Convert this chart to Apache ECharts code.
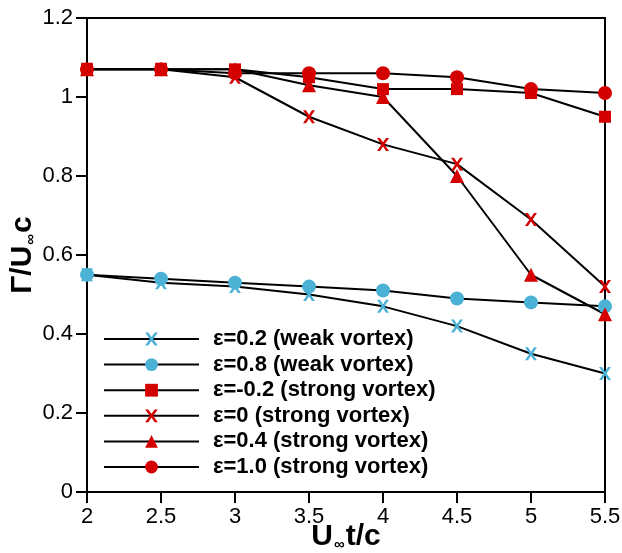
<!DOCTYPE html>
<html>
<head>
<meta charset="utf-8">
<script src="https://cdn.jsdelivr.net/npm/echarts@6/dist/echarts.min.js"></script>
<style>
  html, body { margin: 0; padding: 0; background: #fff; }
  #main { width: 622px; height: 553px; }
</style>
</head>
<body>
<div id="main"></div>
<script>
// x positions (U∞t/c)
var xValues = [2, 2.5, 3, 3.5, 4, 4.5, 5, 5.5];

// Γ/U∞c
var weak02 = [0.55, 0.53, 0.52, 0.50, 0.47, 0.42, 0.35, 0.30];
var weak08 = [0.55, 0.54, 0.53, 0.52, 0.51, 0.49, 0.48, 0.47];
var strongM02 = [1.07, 1.07, 1.07, 1.05, 1.02, 1.02, 1.01, 0.95];
var strong0 = [1.07, 1.07, 1.05, 0.95, 0.88, 0.83, 0.69, 0.52];
var strong04 = [1.07, 1.07, 1.07, 1.03, 1.00, 0.80, 0.55, 0.45];
var strong10 = [1.07, 1.07, 1.06, 1.06, 1.06, 1.05, 1.02, 1.01];

var seriesNames = [
  "ε=0.2 (weak vortex)",
  "ε=0.8 (weak vortex)",
  "ε=-0.2 (strong vortex)",
  "ε=0 (strong vortex)",
  "ε=0.4 (strong vortex)",
  "ε=1.0 (strong vortex)"
];

var blue = "#4bb2d6";
var red = "#d40000";
var font = "Liberation Sans, Arial, sans-serif";
// cross marker drawn as a filled shape
var cross = "path://M0,0L3,0L6,4.3L9,0L12,0L7.6,6.3L12,12.6L9,12.6L6,8.3L3,12.6L0,12.6L4.4,6.3Z";

function pairs(ys) {
  return xValues.map(function (x, i) { return [x, ys[i]]; });
}

function makeSeries(name, ys, symbol, size, color) {
  return {
    name: name,
    type: "line",
    data: pairs(ys),
    symbol: symbol,
    symbolSize: size,
    showAllSymbol: true,
    clip: false,
    lineStyle: { color: "#000", width: 2 },
    itemStyle: { color: color },
    emphasis: { disabled: true }
  };
}

var titleRich = {
  b: { fontFamily: font, fontWeight: "bold", fontSize: 30, color: "#000" },
  s: { fontFamily: font, fontWeight: "bold", fontSize: 15, color: "#000", verticalAlign: "bottom", padding: [14, 1, 0, 1] }
};

var myChart = echarts.init(document.getElementById("main"));

var option = {
  animation: false,
  grid: {
    left: 87, right: 17, top: 18, bottom: 61,
    containLabel: false,
    outerBoundsMode: "none",
    show: true,
    borderColor: "#000",
    borderWidth: 2
  },
  legend: {
    orient: "vertical",
    left: 103,
    top: 328,
    padding: 0,
    itemWidth: 95,
    itemHeight: 16,
    itemGap: 3.6,
    data: seriesNames,
    textStyle: {
      fontFamily: font,
      fontWeight: "bold",
      fontSize: 22,
      color: "#000",
      lineHeight: 16,
      padding: [0, 0, 0, 9]
    }
  },
  xAxis: {
    type: "value",
    min: 2,
    max: 5.5,
    interval: 0.5,
    name: "{b|U}{s|∞}{b|t/c}",
    nameLocation: "middle",
    nameGap: 30,
    nameMoveOverlap: false,
    nameTextStyle: { rich: titleRich },
    splitLine: { show: false },
    axisLine: { lineStyle: { color: "#000", width: 2 } },
    axisTick: { inside: false, length: 11, lineStyle: { color: "#000", width: 2 } },
    axisLabel: { margin: 14, fontFamily: font, fontSize: 22, color: "#000" }
  },
  yAxis: {
    type: "value",
    min: 0,
    max: 1.2,
    interval: 0.2,
    name: "{b|Γ/U}{s|∞}{b|c}",
    nameLocation: "middle",
    nameGap: 49,
    nameMoveOverlap: false,
    nameTextStyle: { rich: titleRich },
    splitLine: { show: false },
    axisLine: { show: true, lineStyle: { color: "#000", width: 2 } },
    axisTick: { show: true, inside: false, length: 11, lineStyle: { color: "#000", width: 2 } },
    axisLabel: { margin: 14, fontFamily: font, fontSize: 22, color: "#000" }
  },
  series: [
    makeSeries(seriesNames[0], weak02, cross, [12, 13], blue),
    makeSeries(seriesNames[1], weak08, "circle", 14, blue),
    makeSeries(seriesNames[2], strongM02, "rect", 12, red),
    makeSeries(seriesNames[3], strong0, cross, [12, 13], red),
    makeSeries(seriesNames[4], strong04, "triangle", 14, red),
    makeSeries(seriesNames[5], strong10, "circle", 14, red)
  ]
};

myChart.setOption(option);
</script>
</body>
</html>
